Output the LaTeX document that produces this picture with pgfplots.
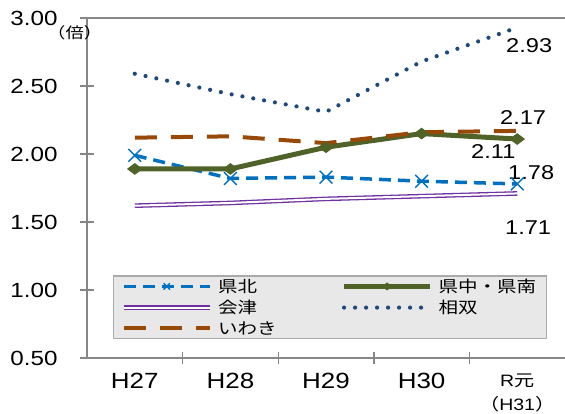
\documentclass[border=0pt]{standalone}
\usepackage{fontspec}
\setmainfont{Liberation Sans}[FakeStretch=1.18]
\newfontfamily\jp{Noto Sans CJK JP}[FakeStretch=1.22]
\usepackage{pgfplots}
\pgfplotsset{compat=1.18}
\definecolor{axgray}{RGB}{134,134,134}
\definecolor{kenpoku}{RGB}{0,112,192}
\definecolor{kenchu}{RGB}{79,98,40}
\definecolor{aizu}{RGB}{112,48,160}
\definecolor{soso}{RGB}{31,73,125}
\definecolor{iwaki}{RGB}{152,72,7}
\definecolor{legfill}{RGB}{232,232,232}
\begin{document}
\begin{tikzpicture}
\useasboundingbox (0,0) rectangle (565pt,414pt);
\begin{axis}[
  at={(87pt,56pt)}, anchor=south west,
  scale only axis, width=478pt, height=340pt,
  xmin=-0.5, xmax=4.5, ymin=0.5, ymax=3.0,
  clip=false,
  axis x line*=bottom, axis y line*=left,
  axis line style={draw=axgray, line width=1.6pt},
  xtick={0,1,2,3,4},
  xticklabels={H27,H28,H29,H30,{\fontsize{16.5}{18}\selectfont R{\jp 元}\\[0pt]\fontsize{16.5}{18}\selectfont{\jp （}H31{\jp ）}}},
  xtick style={draw=none},
  xticklabel style={font=\fontsize{22}{24}\selectfont, align=center, anchor=north, yshift=-5pt},
  extra x ticks={0.5,1.5,2.5,3.5},
  extra x tick labels={},
  extra x tick style={xtick style={draw=axgray, line width=1.4pt}, major tick length=12pt, tick align=center},
  ytick={0.5,1,1.5,2,2.5,3},
  ytick style={draw=axgray, line width=1.4pt},
  major tick length=14pt, tick align=center,
  yticklabel style={font=\fontsize{20.5}{22}\selectfont, xshift=-19pt, /pgf/number format/.cd, fixed, fixed zerofill, precision=2, assume math mode=true},
  legend columns=2,
  legend style={at={(0.054,0.243)}, anchor=north west, fill=legfill, draw=axgray!70, line width=1.2pt,
    font=\jp\fontsize{16}{18}\selectfont, row sep=2.2pt,
    inner xsep=8pt, inner ysep=1pt,
    /tikz/every odd column/.append style={column sep=4pt},
    /tikz/every even column/.append style={column sep=63pt}},
  legend cell align=left,
  legend image code/.code={\draw[mark repeat=2,mark phase=2, mark size=4.5pt] plot coordinates {(0pt,0pt) (43pt,0pt) (86pt,0pt)};},
]
\draw[axgray, line width=1.6pt] (rel axis cs:0,1) -- (rel axis cs:1,1);

\addplot[kenpoku, line width=3.5pt, dash pattern=on 12pt off 7pt, mark=x, mark size=9pt,
  mark options={solid, line width=1.4pt}] coordinates {(0,1.99) (1,1.82) (2,1.83) (3,1.80) (4,1.78)};
\addlegendentry{県北}

\addplot[kenchu, line width=5pt, mark=diamond*, mark size=7pt,
  mark options={solid, rotate=90, line width=1pt}] coordinates {(0,1.89) (1,1.89) (2,2.05) (3,2.15) (4,2.11)};
\addlegendentry{県中・県南}

\addplot[aizu, line width=1.3pt, double=white, double distance=2pt] coordinates {(0,1.62) (1,1.64) (2,1.67) (3,1.69) (4,1.71)};
\addlegendentry{会津}

\addplot[soso, line width=4.2pt, line cap=round, dash pattern=on 0pt off 11pt] coordinates {(0,2.59) (1,2.44) (2,2.31) (3,2.68) (4,2.93)};
\addlegendentry{相双}

\addplot[iwaki, line width=4pt, dash pattern=on 22pt off 14pt] coordinates {(0,2.12) (1,2.13) (2,2.08) (3,2.16) (4,2.17)};
\addlegendentry{いわき}

\node[anchor=west, inner sep=0, font=\fontsize{20}{22}\selectfont] at (axis cs:3.883,2.794) {2.93};
\node[anchor=west, inner sep=0, font=\fontsize{20}{22}\selectfont] at (axis cs:3.82,2.265) {2.17};
\node[anchor=west, inner sep=0, font=\fontsize{20}{22}\selectfont] at (axis cs:3.517,2.015) {2.11};
\node[anchor=west, inner sep=0, font=\fontsize{20}{22}\selectfont] at (axis cs:3.904,1.860) {1.78};
\node[anchor=west, inner sep=0, font=\fontsize{20}{22}\selectfont] at (axis cs:3.872,1.456) {1.71};
\end{axis}
\node[anchor=west, inner sep=0, font=\jp\fontsize{15}{17}\selectfont] at (47pt,381pt) {（倍）};
\end{tikzpicture}
\end{document}
